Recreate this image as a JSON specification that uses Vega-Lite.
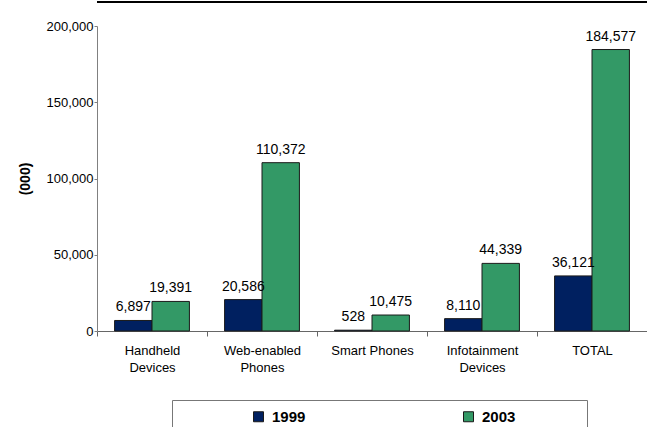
{
  "$schema": "https://vega.github.io/schema/vega-lite/v6.json",
  "width": 550,
  "height": 305,
  "autosize": {"type": "none"},
  "padding": {"left": 97, "top": 26, "right": 0, "bottom": 96},
  "background": "white",
  "config": {
    "view": {"stroke": null},
    "font": "Liberation Sans",
    "axis": {
      "labelFont": "Liberation Sans",
      "labelFontSize": 13,
      "labelColor": "black",
      "grid": false,
      "domainColor": "#808080",
      "tickColor": "#808080"
    },
    "legend": {
      "orient": "none",
      "legendX": 75,
      "legendY": 374,
      "direction": "horizontal",
      "titleOrient": "right",
      "titlePadding": 63,
      "titleFontSize": 15,
      "padding": 9,
      "strokeColor": "#777777",
      "fillColor": "white",
      "symbolType": "square",
      "symbolSize": 100,
      "symbolStrokeColor": "#1a1a1a",
      "symbolStrokeWidth": 1,
      "symbolOffset": 70,
      "labelOffset": 6,
      "columnPadding": 85,
      "labelFont": "Liberation Sans",
      "labelFontSize": 15,
      "labelFontWeight": "bold",
      "labelColor": "black"
    }
  },
  "data": {
    "values": [
      {"category": "Handheld Devices", "year": "1999", "units": 6897},
      {"category": "Handheld Devices", "year": "2003", "units": 19391},
      {"category": "Web-enabled Phones", "year": "1999", "units": 20586},
      {"category": "Web-enabled Phones", "year": "2003", "units": 110372},
      {"category": "Smart Phones", "year": "1999", "units": 528},
      {"category": "Smart Phones", "year": "2003", "units": 10475},
      {"category": "Infotainment Devices", "year": "1999", "units": 8110},
      {"category": "Infotainment Devices", "year": "2003", "units": 44339},
      {"category": "TOTAL", "year": "1999", "units": 36121},
      {"category": "TOTAL", "year": "2003", "units": 184577}
    ]
  },
  "layer": [
    {
      "mark": {"type": "bar", "stroke": "#1a1a1a", "strokeWidth": 1},
      "encoding": {
        "x": {
          "field": "category",
          "type": "nominal",
          "sort": null,
          "scale": {"paddingInner": 0, "paddingOuter": 0},
          "axis": {
            "title": null,
            "labelAngle": 0,
            "tickBand": "extent",
            "tickSize": 5,
            "labelPadding": 8,
            "labelLineHeight": 17,
            "domainColor": "#666666",
            "tickColor": "#666666",
            "labelExpr": "datum.label == 'Smart Phones' || datum.label == 'TOTAL' ? datum.label : split(datum.label, ' ')"
          }
        },
        "xOffset": {
          "field": "year",
          "type": "nominal",
          "scale": {"paddingInner": 0, "paddingOuter": 0.47}
        },
        "y": {
          "field": "units",
          "type": "quantitative",
          "scale": {"domain": [0, 200000], "nice": false},
          "axis": {
            "title": "(000)",
            "titleFontWeight": "bold",
            "titleFontSize": 14,
            "titleColor": "black",
            "titlePadding": 14,
            "values": [0, 50000, 100000, 150000, 200000],
            "format": ",d",
            "tickSize": 3,
            "labelPadding": 1
          }
        },
        "color": {
          "field": "year",
          "type": "nominal",
          "scale": {"domain": ["1999", "2003"], "range": ["#002060", "#339966"]},
          "legend": {"title": " "}
        }
      }
    },
    {
      "mark": {"type": "text", "baseline": "alphabetic", "dy": -9, "fontSize": 14, "color": "black"},
      "encoding": {
        "x": {"field": "category", "type": "nominal", "sort": null},
        "xOffset": {"field": "year", "type": "nominal"},
        "y": {"field": "units", "type": "quantitative", "scale": {"domain": [0, 200000], "nice": false}},
        "text": {"field": "units", "type": "quantitative", "format": ","}
      }
    },
    {
      "data": {"values": [{}]},
      "mark": {"type": "rule", "color": "black", "strokeWidth": 2, "clip": false},
      "encoding": {
        "y": {"datum": 215738, "type": "quantitative", "scale": {"domain": [0, 200000], "nice": false}}
      }
    }
  ]
}
